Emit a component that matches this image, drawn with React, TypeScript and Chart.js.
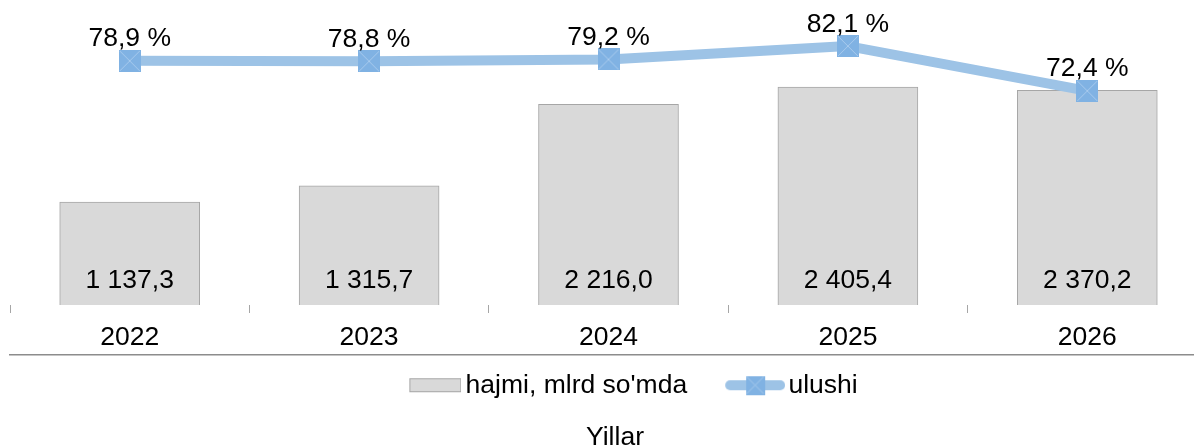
import React, { useEffect, useRef } from "react";
import Chart from "chart.js/auto";

const years = ["2022", "2023", "2024", "2025", "2026"];
const volumeValues = [1137.3, 1315.7, 2216.0, 2405.4, 2370.2];
const shareValues = [78.9, 78.8, 79.2, 82.1, 72.4];
const seriesNames = ["hajmi, mlrd so'mda", "ulushi"];
const axisTitle = "Yillar";

const FONT = "'Liberation Sans', Arial, sans-serif";
const FS = 26.5;
const BAR_FILL = "#d9d9d9";
const BAR_BORDER = "#a6a6a6";
const LINE_COLOR = "#9dc3e6";
const MARKER_FILL = "#80b2e3";
const MARKER_X = "#a9cbee";
const CANVAS_W = 1220;
const CANVAS_H = 460;

function fmt(v: number): string {
  const [i, d] = v.toFixed(1).split(".");
  return i.replace(/\B(?=(\d{3})+(?!\d))/g, " ") + "," + d;
}

function makeMarker(size: number): HTMLCanvasElement {
  const c = document.createElement("canvas");
  c.width = size;
  c.height = size;
  const g = c.getContext("2d")!;
  g.fillStyle = MARKER_FILL;
  g.fillRect(0, 0, size, size);
  g.strokeStyle = MARKER_X;
  g.lineWidth = 1;
  g.beginPath();
  g.moveTo(1, 1);
  g.lineTo(size - 1, size - 1);
  g.moveTo(size - 1, 1);
  g.lineTo(1, size - 1);
  g.stroke();
  return c;
}

function makeBarLegend(): HTMLCanvasElement {
  const c = document.createElement("canvas");
  c.width = 98;
  c.height = 16;
  const g = c.getContext("2d")!;
  g.fillStyle = BAR_FILL;
  g.fillRect(46, 1.5, 51, 13);
  g.strokeStyle = BAR_BORDER;
  g.lineWidth = 1;
  g.strokeRect(46.5, 1.5, 51, 13);
  return c;
}

function makeLineLegend(): HTMLCanvasElement {
  const c = document.createElement("canvas");
  c.width = 100;
  c.height = 24;
  const g = c.getContext("2d")!;
  g.strokeStyle = LINE_COLOR;
  g.lineWidth = 10;
  g.lineCap = "round";
  g.beginPath();
  g.moveTo(45, 12);
  g.lineTo(95, 12);
  g.stroke();
  const m = makeMarker(19);
  g.drawImage(m, 70 - 9.5, 12 - 9.5);
  return c;
}

const labelPlugin = {
  id: "valueLabels",
  afterDatasetsDraw(chart: any) {
    const ctx = chart.ctx;
    ctx.save();
    ctx.font = `${FS}px ${FONT}`;
    ctx.fillStyle = "#000";
    ctx.textAlign = "center";
    ctx.textBaseline = "alphabetic";
    const barMeta = chart.getDatasetMeta(0);
    barMeta.data.forEach((el: any, i: number) => {
      ctx.fillText(fmt(volumeValues[i]), el.x, el.base - 17);
    });
    const lineMeta = chart.getDatasetMeta(1);
    lineMeta.data.forEach((el: any, i: number) => {
      ctx.fillText(fmt(shareValues[i]) + " %", el.x, el.y - 14.5);
    });
    ctx.restore();
  },
};

export default function App() {
  const ref = useRef<HTMLCanvasElement | null>(null);

  useEffect(() => {
    const canvas = ref.current;
    if (!canvas) return;
    const marker = makeMarker(22);
    const legendImgs = [makeBarLegend(), makeLineLegend()];

    const chart = new Chart(canvas, {
      type: "bar",
      data: {
        labels: years,
        datasets: [
          {
            type: "bar",
            label: seriesNames[0],
            data: volumeValues,
            backgroundColor: BAR_FILL,
            borderColor: BAR_BORDER,
            borderWidth: 1,
            barThickness: 140,
            yAxisID: "y",
            order: 1,
          },
          {
            type: "line",
            label: seriesNames[1],
            data: shareValues,
            borderColor: LINE_COLOR,
            backgroundColor: LINE_COLOR,
            borderWidth: 10,
            borderCapStyle: "round",
            borderJoinStyle: "round",
            pointStyle: marker as any,
            pointRadius: 11,
            pointHoverRadius: 11,
            yAxisID: "y1",
            order: 0,
          },
        ],
      } as any,
      plugins: [labelPlugin],
      options: {
        animation: false,
        responsive: false,
        devicePixelRatio: 1,
        layout: { autoPadding: false, padding: { left: 10, right: 0, top: 5, bottom: 0 } },
        font: { family: FONT },
        scales: {
          x: {
            type: "category",
            offset: true,
            weight: 0,
            grid: {
              offset: true,
              drawOnChartArea: false,
              drawTicks: true,
              tickLength: 8,
              color: "#a6a6a6",
              lineWidth: 1,
            },
            border: { display: false },
            ticks: { display: false },
          },
          xl: {
            type: "category",
            position: "bottom",
            offset: true,
            weight: 1,
            grid: {
              display: true,
              offset: true,
              drawOnChartArea: false,
              drawTicks: true,
              tickLength: 8,
              color: "rgba(0,0,0,0)",
            },
            border: { display: false },
            ticks: {
              padding: 0,
              color: "#000",
              font: { family: FONT, size: FS, lineHeight: 34 / FS },
              maxRotation: 0,
            },
          },
          x2: {
            type: "category",
            position: "bottom",
            weight: 2,
            grid: {
              display: true,
              drawOnChartArea: false,
              drawTicks: true,
              tickLength: 9,
              color: "rgba(0,0,0,0)",
            },
            ticks: { display: false },
            border: { display: true, color: "#8c8c8c", width: 1.5 },
          },
          y: { display: false, min: 0, max: 3312 },
          y1: {
            display: true,
            position: "right",
            min: 26,
            max: 91,
            grid: {
              display: true,
              drawOnChartArea: false,
              drawTicks: true,
              tickLength: CANVAS_W - 1207,
              color: "rgba(0,0,0,0)",
            },
            ticks: { display: false },
            border: { display: false },
          },
        },
        plugins: {
          tooltip: { enabled: false },
          legend: {
            position: "bottom",
            align: "center",
            labels: {
              usePointStyle: true,
              pointStyleWidth: 80,
              padding: 8,
              color: "#000",
              font: { family: FONT, size: FS },
              sort: (a: any, b: any) => a.datasetIndex - b.datasetIndex,
              generateLabels: (ch: any) => {
                const items = (Chart as any).defaults.plugins.legend.labels.generateLabels(ch);
                items.forEach((it: any) => {
                  it.pointStyle = legendImgs[it.datasetIndex];
                });
                return items;
              },
            },
          },
          title: {
            display: true,
            position: "bottom",
            text: axisTitle,
            color: "#000",
            font: { family: FONT, size: FS, weight: "normal" },
            padding: { top: 13.6, bottom: 6.1 },
          },
        },
      } as any,
    });
    return () => chart.destroy();
  }, []);

  return (
    <div style={{ position: "fixed", left: 0, top: 0, width: CANVAS_W, height: CANVAS_H, background: "#fff" }}>
      <canvas ref={ref} width={CANVAS_W} height={CANVAS_H} style={{ display: "block" }} />
    </div>
  );
}
